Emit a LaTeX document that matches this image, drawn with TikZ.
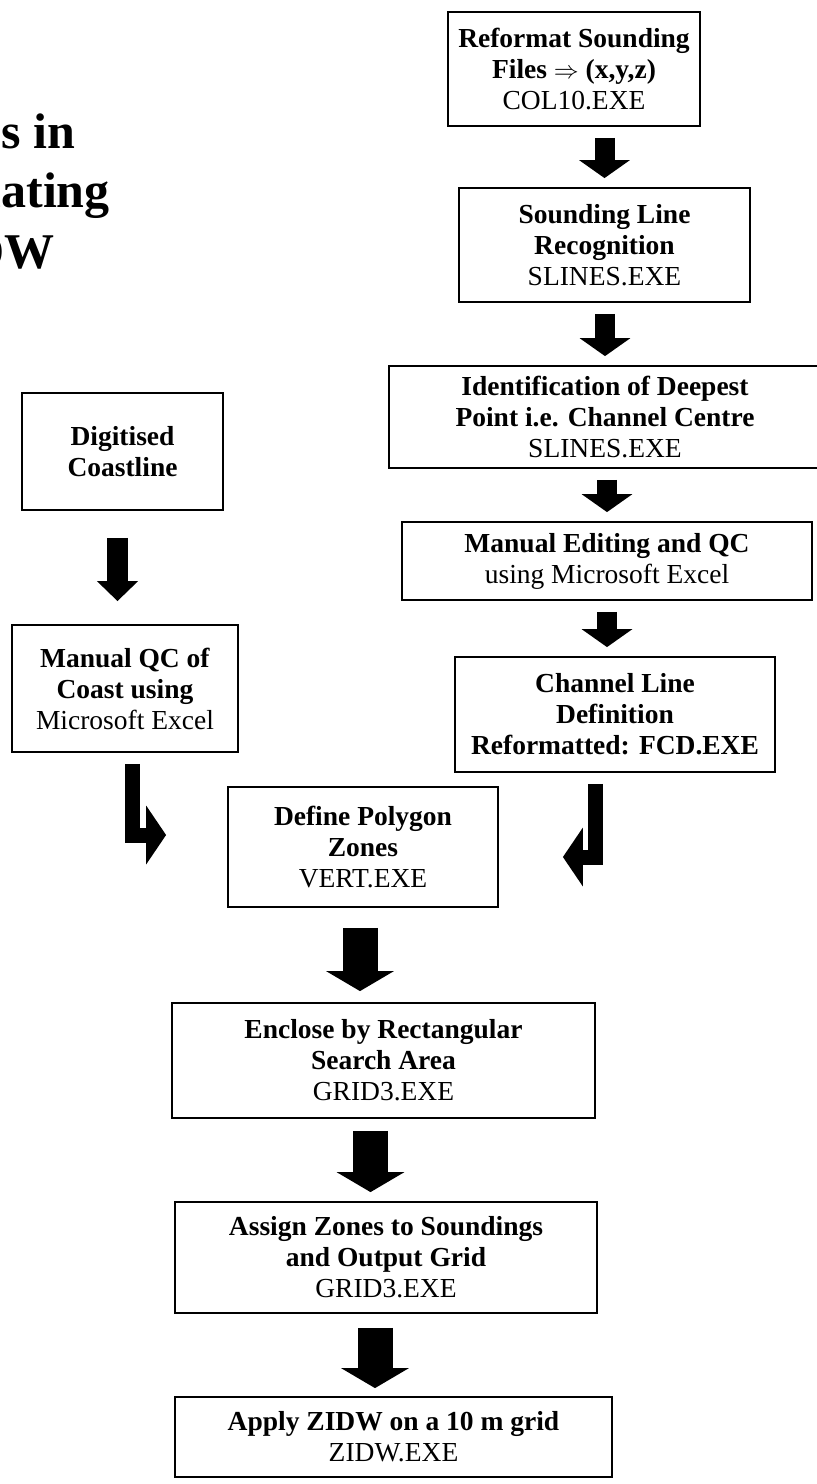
\documentclass[tikz,border=0pt]{standalone}
\usepackage{fontspec}
\setmainfont{Liberation Serif}
\usetikzlibrary{arrows.meta,positioning}

\tikzset{
  procbox/.style={draw,line width=1.8pt,align=center,inner sep=0pt,font=\fontsize{27.5}{31}\selectfont},
  titletext/.style={inner sep=0pt,font=\fontsize{50}{60}\selectfont\bfseries},
  slimarrow/.style={line width=20pt,-{Triangle[length=18pt,width=50pt]},shorten <=11pt,shorten >=9pt},
  widearrow/.style={line width=35pt,-{Triangle[length=20pt,width=67pt]}},
  bentarrow/.style={line width=15pt,-{Triangle[length=20pt,width=58pt]}}
}

\begin{document}
\begin{tikzpicture}[x=1pt,y=-1pt]
			\clip (0,0) rectangle (817,1484);
			% title, cut at the left edge
			\node[titletext,anchor=base east] (ttlA) at (75,148) {es in};
			\node[titletext,anchor=base east] (ttlB) at (110,207) {nating};
			\node[titletext,anchor=base east] (ttlC) at (55,268) {DW};
			% right column
			\node[procbox,minimum width=252pt,minimum height=114pt] (reformat) at (574,69) {\textbf{Reformat Sounding}\\\textbf{Files $\Rightarrow$ (x,y,z)}\\COL10.EXE};
			\node[procbox,minimum width=291pt,minimum height=114pt] (sounding) at (604.5,245) {\textbf{Sounding Line}\\\textbf{Recognition}\\SLINES.EXE};
			\node[procbox,minimum width=432pt,minimum height=102pt] (deepest) at (605,417) {\textbf{Identification of Deepest}\\\textbf{Point i.e. Channel Centre}\\SLINES.EXE};
			\node[procbox,minimum width=410pt,minimum height=78pt] (editing) at (607,561) {\textbf{Manual Editing and QC}\\using Microsoft Excel};
			\node[procbox,minimum width=320pt,minimum height=115pt] (channel) at (615,714.5) {\textbf{Channel Line}\\\textbf{Definition}\\\textbf{Reformatted: FCD.EXE}};
			% left column
			\node[procbox,minimum width=201pt,minimum height=117pt] (digitised) at (122.5,451.5) {\textbf{Digitised}\\\textbf{Coastline}};
			\node[procbox,minimum width=226pt,minimum height=127pt] (coastqc) at (125,688.5) {\textbf{Manual QC of}\\\textbf{Coast using}\\Microsoft Excel};
			% middle column
			\node[procbox,minimum width=270pt,minimum height=120pt] (polygon) at (363,847) {\textbf{Define Polygon}\\\textbf{Zones}\\VERT.EXE};
			\node[procbox,minimum width=423pt,minimum height=115pt] (enclose) at (383.5,1060.5) {\textbf{Enclose by Rectangular}\\\textbf{Search Area}\\GRID3.EXE};
			\node[procbox,minimum width=422pt,minimum height=111pt] (assign) at (386,1257.5) {\textbf{Assign Zones to Soundings}\\\textbf{and Output Grid}\\GRID3.EXE};
			\node[procbox,minimum width=437pt,minimum height=80pt] (apply) at (393.5,1437) {\textbf{Apply ZIDW on a 10 m grid}\\ZIDW.EXE};
			% arrows
			\foreach \a/\b in {reformat/sounding,sounding/deepest,deepest/editing} \draw[slimarrow] (\a.south -| \b.north) -- (\b.north);
			\draw[slimarrow] (editing.south) -- (editing.south |- channel.north);
			\draw[slimarrow,line width=21pt,-{Triangle[length=20pt,width=40pt]},shorten <=27pt,shorten >=23pt] ([xshift=-5pt]digitised.south) -- ([xshift=-5pt]digitised.south |- coastqc.north);
			\draw[bentarrow] ([xshift=7pt,yshift=-11pt]coastqc.south) |- ([xshift=-61pt,yshift=12pt]polygon.west);
			\draw[bentarrow] ([xshift=-20pt,yshift=-11pt]channel.south) |- ([xshift=64pt,yshift=-10pt]polygon.east);
			\draw[widearrow,shorten <=20pt,shorten >=11pt] ([xshift=-3pt]polygon.south) -- ([xshift=-3pt]polygon.south |- enclose.north);
			\draw[widearrow,shorten <=12pt,shorten >=9pt] ([xshift=-13pt]enclose.south) -- ([xshift=-13pt]enclose.south |- assign.north);
			\draw[widearrow,shorten <=14pt,shorten >=8pt] ([xshift=-11pt]assign.south) -- ([xshift=-11pt]assign.south |- apply.north);
		\end{tikzpicture}
\end{document}
